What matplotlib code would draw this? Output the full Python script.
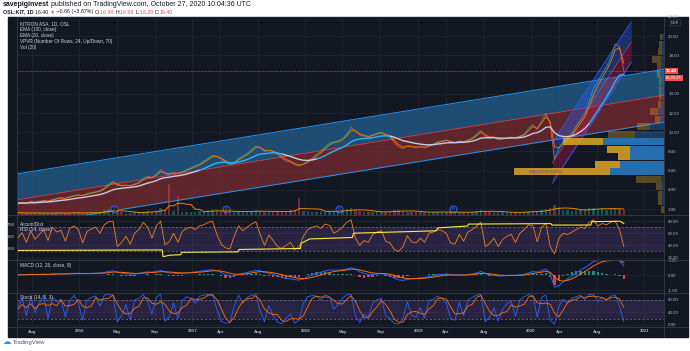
"""
KITRON ASA (OSL:KIT) daily chart, TradingView dark theme recreated with matplotlib.
Price pane with regression channels, EMAs, VPVR and volume; RSI + Accum/Dist,
MACD and Stoch panes below.
"""
import numpy as np
import pandas as pd
import matplotlib
matplotlib.use('Agg')
import matplotlib.pyplot as plt
import matplotlib.dates as mdates
from matplotlib.collections import LineCollection
from matplotlib.patches import Rectangle
from matplotlib.lines import Line2D
from matplotlib.ticker import FormatStrFormatter

plt.rcParams['font.family'] = ['Liberation Sans', 'DejaVu Sans']

##############################################################################
# Data (one value every 14 days, last bar 2020-10-27)
close = [
    2.6, 2.7, 2.6, 2.8, 2.7, 2.8, 2.9, 2.8, 3.0, 3.1,
    3.2, 3.1, 3.3, 3.4, 3.5, 3.4, 3.6, 3.7, 3.8, 3.9,
    4.2, 4.6, 4.9, 4.5, 4.4, 4.5, 4.4, 4.6, 4.8, 5.2,
    5.4, 5.3, 5.6, 6.1, 5.7, 5.6, 5.8, 5.7, 5.9, 6.1,
    6.3, 6.5, 6.7, 7.0, 7.3, 7.6, 7.5, 7.2, 6.9, 6.6,
    6.8, 7.3, 7.5, 7.8, 8.2, 8.6, 8.4, 8.0, 8.1, 8.0,
    7.7, 7.3, 7.0, 6.9, 6.6, 6.5, 6.7, 7.0, 7.3, 7.7,
    8.0, 8.5, 8.9, 9.0, 9.1, 9.3, 9.8, 10.5, 10.1, 9.7,
    9.6, 9.5, 9.7, 9.9, 10.0, 9.7, 9.5, 8.9, 8.5, 8.3,
    8.6, 8.5, 8.4, 8.5, 8.4, 8.6, 8.8, 9.0, 9.1, 9.2,
    9.0, 8.9, 9.1, 9.0, 9.2, 9.4, 9.8, 10.2, 9.6, 9.4,
    9.5, 9.2, 9.3, 9.4, 9.5, 9.4, 9.6, 9.8, 10.4, 10.8,
    10.3, 11.2, 12.0, 10.8, 7.2, 8.3, 9.1, 9.5, 9.9, 10.6,
    11.3, 11.9, 13.2, 14.6, 15.3, 16.1, 16.8, 17.8, 19.2, 18.9,
    16.4]

volume = [
    1.2, 1.0, 0.8, 1.0, 0.9, 1.1, 0.8, 0.9, 1.0, 1.2,
    1.0, 0.9, 1.1, 1.3, 1.0, 0.8, 1.0, 1.2, 1.1, 1.4,
    2.5, 3.0, 2.2, 1.5, 1.2, 1.0, 1.1, 1.3, 1.2, 1.6,
    1.8, 1.5, 2.0, 3.5, 2.5, 15.0, 2.0, 9.0, 1.5, 1.2,
    1.4, 1.5, 1.8, 2.0, 2.2, 2.5, 1.8, 1.5, 2.0, 1.6,
    1.4, 1.8, 1.6, 1.5, 2.0, 2.4, 1.8, 1.6, 1.4, 1.5,
    1.8, 2.0, 1.6, 2.2, 2.5, 8.0, 2.0, 1.8, 1.5, 1.6,
    1.8, 2.0, 1.9, 1.7, 1.8, 2.2, 3.0, 3.5, 2.5, 1.8,
    1.5, 1.4, 1.6, 1.5, 1.4, 1.6, 1.8, 2.2, 2.5, 2.0,
    1.6, 1.5, 1.4, 1.3, 1.2, 1.5, 1.4, 1.6, 1.5, 1.4,
    1.3, 1.2, 1.4, 1.3, 1.5, 1.6, 1.8, 2.4, 2.0, 1.5,
    1.4, 1.3, 1.2, 1.4, 1.3, 1.2, 1.4, 1.5, 1.8, 2.0,
    1.8, 2.2, 2.8, 3.5, 5.0, 4.0, 2.5, 2.2, 2.0, 2.2,
    2.5, 2.8, 3.2, 3.5, 3.0, 2.8, 2.6, 3.0, 3.4, 3.0,
    2.6]

rsi = [
    52, 61, 45, 64, 50, 58, 66, 48, 70, 62,
    65, 47, 68, 72, 66, 44, 63, 67, 70, 60,
    74, 79, 80, 38, 45, 55, 42, 60, 66, 78,
    70, 52, 72, 80, 41, 46, 60, 45, 63, 68,
    70, 66, 72, 74, 78, 80, 58, 42, 36, 34,
    55, 72, 64, 70, 75, 79, 58, 40, 57, 48,
    38, 35, 40, 45, 33, 38, 55, 66, 70, 72,
    68, 75, 73, 60, 64, 70, 78, 82, 52, 40,
    48, 45, 58, 62, 64, 47, 44, 33, 30, 38,
    56, 46, 44, 52, 45, 60, 62, 66, 64, 60,
    44, 42, 58, 47, 62, 66, 72, 78, 38, 43,
    52, 38, 50, 55, 58, 45, 60, 66, 74, 72,
    46, 70, 76, 38, 26, 52, 60, 58, 62, 66,
    70, 68, 78, 82, 72, 76, 74, 78, 80, 66,
    38]

macd = [
    0.02, 0.05, 0.03, 0.06, 0.04, 0.05, 0.07, 0.05, 0.08, 0.09,
    0.10, 0.08, 0.10, 0.12, 0.13, 0.10, 0.11, 0.12, 0.13, 0.14,
    0.18, 0.25, 0.30, 0.20, 0.12, 0.10, 0.06, 0.08, 0.12, 0.18,
    0.22, 0.20, 0.25, 0.32, 0.22, 0.15, 0.14, 0.10, 0.12, 0.15,
    0.18, 0.22, 0.26, 0.30, 0.34, 0.36, 0.30, 0.18, 0.05, -0.08,
    -0.05, 0.05, 0.12, 0.18, 0.25, 0.32, 0.30, 0.18, 0.12, 0.06,
    -0.04, -0.15, -0.22, -0.25, -0.30, -0.32, -0.25, -0.12, 0.02, 0.12,
    0.20, 0.28, 0.34, 0.35, 0.34, 0.36, 0.42, 0.50, 0.40, 0.22,
    0.12, 0.06, 0.05, 0.08, 0.10, 0.05, -0.05, -0.20, -0.32, -0.35,
    -0.28, -0.24, -0.22, -0.18, -0.16, -0.10, -0.04, 0.02, 0.06, 0.08,
    0.04, 0.00, 0.02, 0.01, 0.04, 0.08, 0.15, 0.25, 0.12, 0.02,
    -0.02, -0.06, -0.05, -0.02, 0.00, -0.01, 0.02, 0.06, 0.15, 0.25,
    0.20, 0.30, 0.42, 0.05, -0.80, -0.70, -0.45, -0.25, -0.05, 0.15,
    0.35, 0.50, 0.70, 0.90, 1.00, 1.05, 1.02, 1.00, 1.08, 0.95,
    0.62]

macd_signal = [
    0.01, 0.02, 0.03, 0.04, 0.04, 0.04, 0.05, 0.05, 0.06, 0.07,
    0.08, 0.08, 0.09, 0.10, 0.11, 0.11, 0.11, 0.11, 0.12, 0.13,
    0.14, 0.17, 0.21, 0.21, 0.19, 0.17, 0.14, 0.12, 0.12, 0.14,
    0.16, 0.18, 0.20, 0.23, 0.23, 0.21, 0.19, 0.17, 0.15, 0.15,
    0.16, 0.18, 0.20, 0.23, 0.26, 0.29, 0.30, 0.27, 0.21, 0.13,
    0.07, 0.05, 0.07, 0.10, 0.15, 0.20, 0.24, 0.23, 0.20, 0.16,
    0.10, 0.03, -0.04, -0.10, -0.16, -0.21, -0.23, -0.21, -0.15, -0.08,
    0.01, 0.10, 0.18, 0.24, 0.28, 0.31, 0.35, 0.40, 0.40, 0.35,
    0.28, 0.21, 0.15, 0.12, 0.11, 0.10, 0.06, -0.01, -0.10, -0.19,
    -0.23, -0.24, -0.23, -0.22, -0.20, -0.17, -0.13, -0.08, -0.04, 0.00,
    0.01, 0.01, 0.01, 0.01, 0.02, 0.04, 0.07, 0.12, 0.12, 0.09,
    0.05, 0.01, -0.01, -0.02, -0.02, -0.02, -0.01, 0.01, 0.06, 0.12,
    0.15, 0.20, 0.27, 0.19, -0.12, -0.35, -0.40, -0.35, -0.25, -0.10,
    0.08, 0.25, 0.43, 0.62, 0.78, 0.90, 0.96, 0.98, 1.02, 1.00,
    0.85]

stoch_k = [
    55, 85, 30, 90, 40, 70, 95, 20, 88, 75,
    82, 25, 78, 95, 70, 15, 80, 88, 92, 60,
    96, 98, 94, 10, 30, 65, 15, 80, 85, 97,
    75, 35, 88, 98, 12, 25, 70, 20, 78, 90,
    85, 70, 92, 95, 98, 96, 50, 12, 5, 8,
    60, 95, 70, 88, 94, 97, 45, 10, 62, 30,
    8, 5, 20, 35, 6, 15, 70, 90, 94, 92,
    80, 96, 90, 50, 65, 85, 96, 98, 30, 8,
    35, 25, 70, 80, 85, 30, 20, 5, 3, 20,
    75, 30, 25, 55, 22, 78, 82, 92, 85, 70,
    20, 15, 72, 30, 80, 88, 95, 98, 10, 25,
    55, 12, 50, 68, 75, 28, 80, 90, 97, 92,
    25, 88, 96, 15, 2, 60, 82, 70, 85, 90,
    95, 80, 97, 98, 75, 88, 80, 92, 96, 60,
    12]

stoch_d = [
    50, 65, 55, 68, 52, 66, 68, 62, 68, 61,
    80, 60, 62, 66, 81, 60, 55, 61, 87, 80,
    83, 85, 96, 67, 45, 35, 37, 53, 60, 87,
    86, 69, 66, 74, 66, 45, 36, 38, 56, 63,
    84, 82, 82, 86, 95, 96, 81, 53, 22, 8,
    24, 54, 75, 84, 84, 93, 79, 51, 39, 34,
    33, 14, 11, 20, 20, 19, 30, 58, 85, 92,
    89, 89, 89, 79, 68, 67, 82, 93, 75, 45,
    24, 23, 43, 58, 78, 65, 45, 18, 9, 9,
    33, 42, 43, 37, 34, 52, 61, 84, 86, 82,
    58, 35, 36, 39, 61, 66, 88, 94, 68, 44,
    30, 31, 39, 43, 64, 57, 61, 66, 89, 93,
    71, 68, 70, 66, 38, 26, 48, 71, 79, 82,
    90, 88, 91, 92, 90, 87, 81, 87, 89, 83,
    56]

dates = pd.date_range(end='2020-10-27', periods=len(close), freq='14D')

# Accum/Dist (millions), a step-like line
ad_dates = ['2015-06-12', '2016-09-25', '2016-09-28', '2016-10-20', '2016-11-24',
            '2016-11-27', '2017-05-28', '2017-05-31', '2017-12-16', '2017-12-19',
            '2018-01-15', '2018-06-02', '2018-06-06', '2019-03-01', '2019-03-05',
            '2019-06-10', '2019-06-13', '2020-03-05', '2020-03-09', '2020-07-12',
            '2020-07-16', '2020-10-15', '2020-10-27']
ad_values = [20, 21, 7, 10, 11, 16, 17, 22, 24, 35, 44, 47, 56, 61, 67, 71, 75,
             76, 73, 73, 80, 81, 76]

# Volume profile, visible range, 24 rows (relative volume)
vp_range = (1.6, 20.32)
vp_up = [0, 2, 2, 2, 3, 54, 44, 34, 34, 61, 29, 14, 4, 6, 3, 3, 3, 3, 4, 3, 3, 2, 2, 2]
vp_down = [3, 4, 4, 6, 25, 96, 25, 12, 23, 40, 27, 13, 5, 8, 3, 2, 2, 2, 3, 4, 9, 4, 3, 2]
vp_value_area = [5, 6, 7, 8, 9]
poc_label = '0.9B|2159157839574'

dividends = ['2016-04-22', '2017-04-21', '2018-04-20', '2019-04-24']

# Regression channels: (start, end) dates and (upper, middle, lower) at each end
long_channel = (('2015-06-12', '2021-03-06'), (5.65, 2.95, 0.2), (16.55, 13.85, 11.05))
fast_channel = (('2020-03-10', '2020-11-20'), (8.9, 6.8, 4.7), (21.5, 19.4, 17.3))

ema_blue_spans = [('2017-01-15', '2017-10-15'), ('2018-02-01', '2018-10-01'),
                  ('2020-07-01', '2020-11-01')]

xt_dates = ['2015-08-01', '2016-01-01', '2016-05-01', '2016-09-01', '2017-01-01',
            '2017-04-01', '2017-08-01', '2018-01-01', '2018-05-01', '2018-09-01',
            '2019-01-01', '2019-04-01', '2019-08-01', '2020-01-01', '2020-04-01',
            '2020-08-01', '2021-01-01']
xt_labels = ['Aug', '2016', 'May', 'Sep', '2017', 'Apr', 'Aug', '2018', 'May', 'Sep',
             '2019', 'Apr', 'Aug', '2020', 'Apr', 'Aug', '2021']

##############################################################################
# Figure and panes
W, H = 690.0, 351.0
BG = '#131722'
GRID = '#242833'
LINE = '#363a45'
TXT = '#b2b5be'
RED = '#ef5350'

fig = plt.figure(figsize=(6.9, 3.51), dpi=100)
fig.patch.set_facecolor('white')
fig.add_artist(Rectangle((8 / W, 1 - 337 / H), 680 / W, 320 / H,
                         transform=fig.transFigure, color=BG, zorder=-5))

L, R = 16.5, 664.0


def pane(y0, y1, **kw):
    return fig.add_axes([L / W, 1 - y1 / H, (R - L) / W, (y1 - y0) / H], **kw)


ax_p = pane(17, 215)
ax_r = pane(215, 260, sharex=ax_p)
ax_m = pane(260, 293, sharex=ax_p)
ax_s = pane(293, 327, sharex=ax_p)

x0, x1 = mdates.datestr2num('2015-06-12'), mdates.datestr2num('2021-03-06')
xd = mdates.date2num(dates.values)
xticks = [mdates.datestr2num(d) for d in xt_dates]

# twin axes first (they move the host's y ticks around)
ax_vol = ax_p.twinx()
ax_v = ax_p.twiny()
ax_ad = ax_r.twinx()

for ax in (ax_p, ax_r, ax_m, ax_s):
    ax.set_facecolor(BG)
    for s in ax.spines.values():
        s.set_visible(False)
    ax.set_xlim(x0, x1)
    ax.set_xticks(xticks)
    ax.yaxis.set_ticks_position('right')
    ax.yaxis.set_major_formatter(FormatStrFormatter('%.2f'))
    ax.tick_params(axis='both', length=0, labelsize=3.2, labelcolor=TXT, pad=3)
    ax.tick_params(axis='y', labelright=True, labelleft=False)
    ax.tick_params(axis='x', labelbottom=False)
    ax.grid(True, color=GRID, lw=0.5)
    ax.set_axisbelow(True)

ax_s.tick_params(axis='x', labelbottom=True, pad=1.8)
ax_s.set_xticklabels(xt_labels, fontweight='bold')

# separators
for y in (215, 260, 293, 327):
    fig.add_artist(Line2D([8 / W, 688 / W], [1 - y / H] * 2, color=LINE, lw=0.6))
for x in (L, R):
    fig.add_artist(Line2D([x / W] * 2, [1 - 17 / H, 1 - 337 / H], color=LINE, lw=0.6))

##############################################################################
# Price pane
ax_p.set_ylim(1.38, 22.0)
ax_p.set_yticks([t for t in range(2, 23, 2) if t != 16])

(ca, cb), lo0, lo1 = long_channel
cx = [mdates.datestr2num(ca), mdates.datestr2num(cb)]
ax_p.fill_between(cx, [lo0[1], lo1[1]], [lo0[0], lo1[0]], color='#235a87', alpha=0.8, lw=0, zorder=1)
ax_p.fill_between(cx, [lo0[2], lo1[2]], [lo0[1], lo1[1]], color='#722b2f', alpha=0.8, lw=0, zorder=1)
ax_p.plot(cx, [lo0[0], lo1[0]], color='#2196f3', lw=0.7, zorder=2)
ax_p.plot(cx, [lo0[1], lo1[1]], color='#e53935', lw=0.6, zorder=2)
ax_p.plot(cx, [lo0[2], lo1[2]], color='#2196f3', lw=0.7, zorder=2)

(fa, fb), f0, f1 = fast_channel
fx = [mdates.datestr2num(fa), mdates.datestr2num(fb)]
ax_p.fill_between(fx, [f0[1], f1[1]], [f0[0], f1[0]], color='#2962ff', alpha=0.35, lw=0, zorder=3)
ax_p.fill_between(fx, [f0[2], f1[2]], [f0[1], f1[1]], color='#d81b60', alpha=0.3, lw=0, zorder=3)
ax_p.plot(fx, [f0[0], f1[0]], color='#2962ff', lw=0.6, zorder=3)
ax_p.plot(fx, [f0[1], f1[1]], color='#e53935', lw=0.5, zorder=3)
ax_p.plot(fx, [f0[2], f1[2]], color='#2962ff', lw=0.6, zorder=3)

# candles approximated by a two-coloured close line
pts = np.column_stack([xd, close])
segs = np.stack([pts[:-1], pts[1:]], axis=1)
cols = ['#26a69a' if b >= a else RED for a, b in zip(close[:-1], close[1:])]
ax_p.add_collection(LineCollection(segs, colors=cols, linewidths=0.6, alpha=0.9, zorder=4))

ema20 = pd.Series(close).ewm(span=2, adjust=False).mean().values
ema100 = pd.Series(close).ewm(span=10, adjust=False).mean().values
blue = np.zeros(len(dates), bool)
for a, b in ema_blue_spans:
    blue |= (dates >= a) & (dates <= b)
blue_ext = blue | np.roll(blue, 1)
lav_ext = ~blue | np.roll(~blue, 1)
ax_p.plot(xd, ema20, color='#f57c00', lw=0.6, zorder=5)
ax_p.plot(xd, np.where(lav_ext, ema100, np.nan), color='#c5cae9', lw=1.0, zorder=5)
ax_p.plot(xd, np.where(blue_ext, ema100, np.nan), color='#29b6f6', lw=1.0, zorder=5)
ax_p.axhline(close[-1], color=RED, lw=0.5, ls=(0, (1, 1)), zorder=5)

# dividend markers
for d in dividends:
    xdv = mdates.datestr2num(d)
    ax_p.plot(xdv, 0.028, 'o', transform=ax_p.get_xaxis_transform(), ms=5,
              mfc=BG, mec='#2962ff', mew=0.7, zorder=6)
    ax_p.text(xdv, 0.028, 'D', transform=ax_p.get_xaxis_transform(), fontsize=2.6,
              color='#2962ff', ha='center', va='center', fontweight='bold', zorder=7)

# volume
vcols = [RED if i > 0 and close[i] < close[i - 1] else '#26a69a' for i in range(len(close))]
ax_vol.bar(xd, volume, width=8, color=vcols, alpha=0.4, lw=0)
ax_vol.plot(xd, pd.Series(volume).rolling(6, min_periods=1).mean(), color='#ff9800', lw=0.6)
ax_vol.set_ylim(0, 95)
ax_vol.axis('off')

# VPVR
edges = np.linspace(vp_range[0], vp_range[1], len(vp_up) + 1)
mids = (edges[:-1] + edges[1:]) / 2
rowh = (edges[1] - edges[0]) * 0.9
tot = np.array(vp_up) + np.array(vp_down)
for i in range(len(vp_up)):
    a = 0.85 if i in vp_value_area else 0.35
    ax_v.barh(mids[i], vp_up[i], left=0, height=rowh, color='#2a7fc9', alpha=a, lw=0)
    ax_v.barh(mids[i], vp_down[i], left=vp_up[i], height=rowh, color='#e0a526', alpha=a, lw=0)
ax_v.set_xlim(tot.max() / 0.232, 0)
ax_v.axis('off')
poc = int(np.argmax(tot))
ax_v.text(tot[poc] * 0.9, mids[poc], poc_label, fontsize=2.6, color='#3949ab',
          va='center', ha='left')

##############################################################################
# RSI + Accum/Dist pane
ax_r.set_ylim(16, 90)
ax_r.set_yticks([20, 40, 60, 80])
ax_r.fill_between([x0, x1], 30, 70, color='#7e57c2', alpha=0.2, lw=0)
for lv in (30, 70):
    ax_r.axhline(lv, color='#787b86', lw=0.5, ls=(0, (3, 3)))
ax_r.plot(xd, rsi, color='#f57f17', lw=0.6)
ax_ad.plot([mdates.datestr2num(d) for d in ad_dates], ad_values, color='#ffeb3b', lw=0.8)
ax_ad.set_ylim(0, 94)
ax_ad.set_yticks([25, 50, 75])
ax_ad.set_yticklabels(['25M', '50M', '75M'])
ax_ad.yaxis.set_ticks_position('left')
ax_ad.tick_params(axis='y', length=0, pad=1, labelsize=2.9, labelcolor=TXT,
                  labelleft=True, labelright=False)
for s in ax_ad.spines.values():
    s.set_visible(False)

##############################################################################
# MACD pane
ax_m.set_ylim(-1.2, 1.02)
ax_m.set_yticks([-1, 0, 1])
hist = np.array(macd) - np.array(macd_signal)
ax_m.bar(xd, hist, width=8, color=['#26a69a' if h >= 0 else '#ff5252' for h in hist],
         alpha=0.8, lw=0)
ax_m.plot(xd, macd, color='#2962ff', lw=0.7)
ax_m.plot(xd, macd_signal, color='#ff6d00', lw=0.7)

##############################################################################
# Stoch pane
ax_s.set_ylim(-6.4, 102)
ax_s.set_yticks([0, 40, 80])
ax_s.fill_between([x0, x1], 20, 80, color='#7e57c2', alpha=0.2, lw=0)
for lv in (20, 80):
    ax_s.axhline(lv, color='#787b86', lw=0.5, ls=(0, (3, 3)))
ax_s.plot(xd, stoch_k, color='#2962ff', lw=0.6)
ax_s.plot(xd, stoch_d, color='#ff6d00', lw=0.6)

##############################################################################
# Texts


def ft(x, y, s, **kw):
    kw.setdefault('va', 'center')
    return fig.text(x / W, 1 - y / H, s, **kw)


def chain(x, y, parts, size):
    r = fig.canvas.get_renderer()
    for s, kw in parts:
        t = ft(x, y, s, fontsize=size, **kw)
        x += t.get_window_extent(r).width


DARK = '#131722'
chain(3, 5, [('savepiginvest', dict(color=DARK, fontweight='bold')),
             (' published on TradingView.com, October 27, 2020 10:04:36 UTC', dict(color=DARK))], 5.0)
chain(3, 12, [('OSL:KIT, 1D ', dict(color=DARK, fontweight='bold')),
              ('16.40 ', dict(color=DARK)), ('▼', dict(color=RED)),
              (' \u22120.66 (\u22123.87%) ', dict(color=DARK)),
              ('O:', dict(color=DARK)), ('16.98 ', dict(color=RED)),
              ('H:', dict(color=DARK)), ('16.98 ', dict(color=RED)),
              ('L:', dict(color=DARK)), ('16.20 ', dict(color=RED)),
              ('C:', dict(color=DARK)), ('16.40', dict(color=RED))], 3.8)

for i, s in enumerate(['KITRON ASA, 1D, OSL', 'EMA (100, close)', 'EMA (20, close)',
                       'VPVR (Number Of Rows, 24, Up/Down, 70)', 'Vol (20)']):
    ft(20, 24 + i * 5.8, s, fontsize=3.4, color='#d1d4dc')
ft(20, 224, 'Accum/Dist', fontsize=3.4, color='#d1d4dc')
ft(20, 230, 'RSI (14, close)', fontsize=3.4, color='#d1d4dc')
ft(20, 265, 'MACD (12, 26, close, 9)', fontsize=3.4, color='#d1d4dc')
ft(20, 298, 'Stoch (14, 3, 3)', fontsize=3.4, color='#d1d4dc')

ft(671, 23, 'NOK', fontsize=2.8, color=TXT,
   bbox=dict(boxstyle='round,pad=0.25', fc=BG, ec='#434651', lw=0.4))
ft(666, 71, '16.40', fontsize=3.2, color='white', fontweight='bold',
   bbox=dict(boxstyle='square,pad=0.3', fc=RED, ec='none'))
ft(666, 78, '05:25:25', fontsize=3.0, color='white',
   bbox=dict(boxstyle='square,pad=0.3', fc=RED, ec='none'))

ft(3, 342, '\u2601', fontsize=6, color='#2196f3', family=['DejaVu Sans'])
ft(13, 342.5, 'TradingView', fontsize=4.2, color='#50535e')

fig.savefig('out.png', dpi=100, facecolor=fig.get_facecolor())
